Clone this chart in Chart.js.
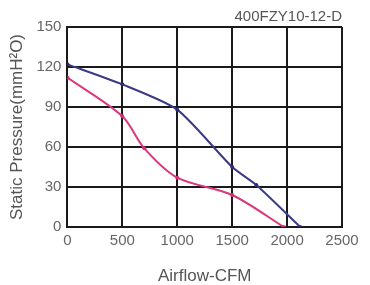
<!DOCTYPE html>
<html>
<head>
<meta charset="utf-8">
<script src="https://cdn.jsdelivr.net/npm/chart.js@4"></script>
<style>
  html, body { margin: 0; padding: 0; background: #fff; }
  #wrap { width: 370px; height: 285px; }
</style>
</head>
<body>
<div id="wrap"><canvas id="c" width="370" height="285"></canvas></div>
<script>
const chartTitle = "400FZY10-12-D";
const xTitle = "Airflow-CFM";
const yTitle = "Static Pressure(mmH²O)";

const xTicks = [0, 500, 1000, 1500, 2000, 2500];
const yTicks = [0, 30, 60, 90, 120, 150];

const blueFlow = [0, 500, 1000, 1500, 1720, 2120];
const bluePressure = [122, 107, 88, 45, 31.5, 0];

const pinkFlow = [0, 500, 700, 1000, 1500, 1970];
const pinkPressure = [112, 83, 59, 37, 24, 0];

const toPoints = (xs, ys) => xs.map((x, i) => ({ x: x, y: ys[i] }));

const fontFamily = "'Liberation Sans', Arial, sans-serif";

new Chart(document.getElementById('c'), {
  type: 'line',
  data: {
    datasets: [
      {
        data: toPoints(blueFlow, bluePressure),
        borderColor: '#3b3a85',
        backgroundColor: '#2e2d75',
        borderWidth: 2,
        pointRadius: 2,
        pointBorderWidth: 0,
        tension: 0.22,
        fill: false
      },
      {
        data: toPoints(pinkFlow, pinkPressure),
        borderColor: '#d9387c',
        backgroundColor: '#d42f73',
        borderWidth: 2,
        pointRadius: 2,
        pointBorderWidth: 0,
        tension: 0.3,
        fill: false
      }
    ]
  },
  options: {
    responsive: false,
    animation: false,
    layout: { padding: { left: 0, right: 28, top: 0, bottom: 0 } },
    plugins: {
      legend: { display: false },
      tooltip: { enabled: false },
      title: {
        display: true,
        text: chartTitle,
        align: 'end',
        fullSize: false,
        color: '#555',
        font: { family: fontFamily, size: 15, weight: 'normal' },
        padding: { top: 8, bottom: 1 }
      }
    },
    scales: {
      x: {
        type: 'linear',
        min: 0,
        max: 2500,
        afterBuildTicks: (s) => { s.ticks = xTicks.map(v => ({ value: v })); },
        ticks: {
          color: '#666',
          font: { family: fontFamily, size: 15 },
          padding: 5,
          maxRotation: 0,
          callback: (v) => String(v)
        },
        grid: { color: '#1a1a1a', lineWidth: 2, drawTicks: false },
        border: { color: '#1a1a1a', width: 2 },
        title: {
          display: true,
          text: xTitle,
          color: '#555',
          font: { family: fontFamily, size: 17, lineHeight: 1 },
          padding: { top: 13, bottom: 0 }
        }
      },
      y: {
        type: 'linear',
        min: 0,
        max: 150,
        afterBuildTicks: (s) => { s.ticks = yTicks.map(v => ({ value: v })); },
        ticks: {
          color: '#666',
          font: { family: fontFamily, size: 15 },
          padding: 6,
          callback: (v) => String(v)
        },
        grid: { color: '#1a1a1a', lineWidth: 2, drawTicks: false },
        border: { color: '#1a1a1a', width: 2 },
        title: {
          display: true,
          text: yTitle,
          color: '#555',
          font: { family: fontFamily, size: 17, lineHeight: 1.2 },
          padding: { top: 7, bottom: 3 }
        }
      }
    }
  }
});
</script>
</body>
</html>
